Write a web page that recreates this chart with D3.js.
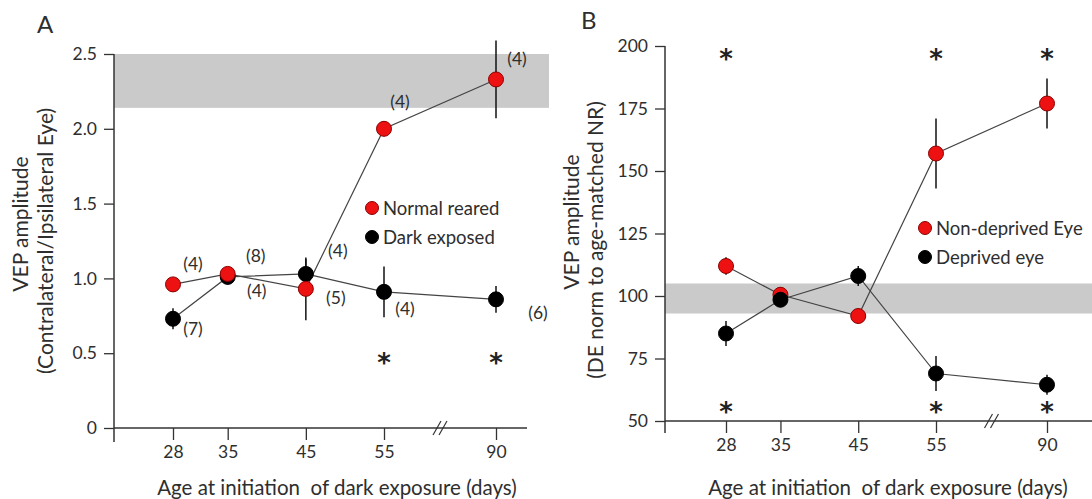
<!DOCTYPE html>
<html>
<head>
<meta charset="utf-8">
<script src="https://cdn.jsdelivr.net/npm/d3@7"></script>
<style>
  body { margin: 0; background: #fff; }
  svg text { font-family: Lato, "Open Sans", sans-serif; fill: #2e2e2e; }
</style>
</head>
<body>
<div id="chart"></div>
<script>
const days = [28, 35, 45, 55, 90];
const dayTickLabels = ["28", "35", "45", "55", "90"];

// Panel A: contralateral / ipsilateral ratio
const normalReared = [0.96, 1.03, 0.93, 2.00, 2.33];
const normalRearedErr = [0.03, 0.04, 0.21, 0.05, 0.26];
const normalRearedN = [4, 8, 5, 4, 4];
const darkExposed = [0.73, 1.01, 1.03, 0.91, 0.86];
const darkExposedErr = [0.07, 0.05, 0.10, 0.17, 0.09];
const darkExposedN = [7, 4, 4, 4, 6];
const bandA = [2.14, 2.5];
const starsA = [55, 90];

// Panel B: deprived eye normalised to age-matched normal reared
const nonDeprived = [112, 100.5, 92, 157, 177];
const nonDeprivedErr = [3.5, 3, 3, 14, 10];
const deprived = [85, 98.5, 108, 69, 64.5];
const deprivedErr = [5, 3, 4, 7, 4];
const bandB = [93, 105];
const starsBTop = [28, 55, 90];
const starsBBottom = [28, 55, 90];

const width = 1092, height = 499;

const svg = d3.select("#chart").append("svg")
    .attr("width", width)
    .attr("height", height);

function drawPanel(p) {
    const g = svg.append("g");

    // days axis has a break between 55 and 90
    const x = d3.scaleLinear()
        .domain([28, 55, 90])
        .range(p.xRange);
    const y = d3.scaleLinear()
        .domain(p.yDomain)
        .range(p.yRange);

    // reference band
    g.append("rect")
        .attr("x", p.axisX)
        .attr("width", p.bandEnd - p.axisX)
        .attr("y", y(p.band[1]))
        .attr("height", y(p.band[0]) - y(p.band[1]))
        .attr("fill", "#cacaca");

    // y axis
    const yAxis = d3.axisLeft(y)
        .tickValues(p.yTicks)
        .tickFormat(p.yFormat)
        .tickSize(10)
        .tickPadding(7)
        .tickSizeOuter(0);
    const ya = g.append("g")
        .attr("transform", "translate(" + p.axisX + ",0)")
        .call(yAxis);
    ya.select(".domain").remove();
    ya.selectAll(".tick line").attr("stroke", "#333").attr("stroke-width", 1.3);
    ya.selectAll(".tick text").style("font-size", "17.5px");
    g.append("line")
        .attr("x1", p.axisX).attr("x2", p.axisX)
        .attr("y1", y(p.yDomain[1])).attr("y2", y(p.yDomain[0]) + p.yOvershoot)
        .attr("stroke", "#333").attr("stroke-width", 1.5);

    // x axis
    const xAxis = d3.axisBottom(x)
        .tickValues(days)
        .tickFormat((d, i) => dayTickLabels[i])
        .tickSize(12)
        .tickPadding(6)
        .tickSizeOuter(0);
    const xa = g.append("g")
        .attr("transform", "translate(0," + y(p.yDomain[0]) + ")")
        .call(xAxis);
    xa.select(".domain").remove();
    xa.selectAll(".tick line").attr("stroke", "#333").attr("stroke-width", 1.3);
    xa.selectAll(".tick text").style("font-size", "17.5px");
    g.append("line")
        .attr("x1", p.axisX).attr("x2", p.xEnd)
        .attr("y1", y(p.yDomain[0])).attr("y2", y(p.yDomain[0]))
        .attr("stroke", "#333").attr("stroke-width", 1.5);

    // axis break marks
    const bx = (x(55) + x(90)) / 2, by = y(p.yDomain[0]);
    [-3, 3].forEach(o => {
        g.append("line")
            .attr("x1", bx + o - 4).attr("y1", by + 7)
            .attr("x2", bx + o + 4).attr("y2", by - 7)
            .attr("stroke", "#333").attr("stroke-width", 1.2);
    });

    // series: lines, error bars, markers
    const line = d3.line().x((d, i) => x(days[i])).y(d => y(d));
    p.series.forEach(s => {
        g.append("path")
            .datum(s.values)
            .attr("d", line)
            .attr("fill", "none")
            .attr("stroke", "#444")
            .attr("stroke-width", 1.2);
    });
    p.series.forEach(s => {
        g.selectAll(null)
            .data(s.values)
            .enter()
            .append("line")
            .attr("x1", (d, i) => x(days[i]))
            .attr("x2", (d, i) => x(days[i]))
            .attr("y1", (d, i) => y(d + s.err[i]))
            .attr("y2", (d, i) => y(d - s.err[i]))
            .attr("stroke", "#111")
            .attr("stroke-width", 1.5);
    });
    const markerOrder = p.redOnTop ? p.series.slice().reverse() : p.series;
    markerOrder.forEach(s => {
        g.selectAll(null)
            .data(s.values)
            .enter()
            .append("circle")
            .attr("cx", (d, i) => x(days[i]))
            .attr("cy", d => y(d))
            .attr("r", 7.5)
            .attr("fill", s.fill)
            .attr("stroke", s.stroke)
            .attr("stroke-width", 1);
    });

    // group sizes
    p.series.forEach(s => {
        if (!s.n) return;
        g.selectAll(null)
            .data(s.n)
            .enter()
            .append("text")
            .attr("x", (d, i) => x(days[i]) + s.nOffsets[i][0])
            .attr("y", (d, i) => y(s.values[i]) + s.nOffsets[i][1])
            .attr("text-anchor", "middle")
            .attr("dominant-baseline", "central")
            .style("font-size", "17.5px")
            .text(d => "(" + d + ")");
    });

    // significance stars
    p.stars.forEach(st => {
        g.selectAll(null)
            .data(st.days)
            .enter()
            .append("text")
            .attr("x", d => x(d))
            .attr("y", y(st.at) + 14)
            .attr("text-anchor", "middle")
            .style("font-size", "26px")
            .style("font-weight", "bold")
            .style("font-family", "DejaVu Sans")
            .style("fill", "#222")
            .text("*");
    });

    // legend
    p.series.forEach((s, i) => {
        const ly = p.legend[1] + i * 29;
        g.append("circle")
            .attr("cx", p.legend[0]).attr("cy", ly)
            .attr("r", 6.5)
            .attr("fill", s.fill).attr("stroke", s.stroke);
        g.append("text")
            .attr("x", p.legend[0] + 11).attr("y", ly)
            .attr("dominant-baseline", "central")
            .style("font-size", "18.5px")
            .text(s.name);
    });

    // panel letter
    g.append("text")
        .attr("x", p.letter[0]).attr("y", p.letter[1])
        .style("font-size", "24px")
        .text(p.letterText);

    // axis titles
    g.append("text")
        .attr("x", p.xTitle[0]).attr("y", p.xTitle[1])
        .attr("text-anchor", "middle")
        .style("font-size", "20.5px")
        .style("white-space", "pre")
        .text("Age at initiation  of dark exposure (days)");
    p.yTitle.forEach((t, i) => {
        g.append("text")
            .attr("transform", "translate(" + p.yTitleX[i] + "," + p.yTitleY[i] + ") rotate(-90)")
            .attr("text-anchor", "middle")
            .attr("dominant-baseline", "central")
            .style("font-size", "21px")
            .text(t);
    });
}

drawPanel({
    letterText: "A", letter: [37, 33],
    xRange: [173, 384, 496], xEnd: 527, bandEnd: 549, axisX: 114,
    yDomain: [0, 2.5], yRange: [428, 54], yOvershoot: 14,
    yTicks: [0, 0.5, 1.0, 1.5, 2.0, 2.5],
    yFormat: d => d === 0 ? "0" : d3.format(".1f")(d),
    band: bandA,
    redOnTop: true,
    series: [
        { name: "Normal reared", values: normalReared, err: normalRearedErr, n: normalRearedN,
          nOffsets: [[20, -21], [28, -18], [30, 9], [16, -27], [21, -21]],
          fill: "#ee1111", stroke: "#8a0000" },
        { name: "Dark exposed", values: darkExposed, err: darkExposedErr, n: darkExposedN,
          nOffsets: [[20, 10], [29, 14], [32, -23], [21, 17], [42, 13]],
          fill: "#000", stroke: "#000" }
    ],
    stars: [{ days: starsA, at: 0.47 }],
    legend: [372, 208],
    xTitle: [337, 495],
    yTitle: ["VEP amplitude", "(Contralateral/Ipsilateral Eye)"],
    yTitleX: [19, 44], yTitleY: [224, 241]
});

drawPanel({
    letterText: "B", letter: [581, 29],
    xRange: [726, 936, 1047], xEnd: 1092, bandEnd: 1092, axisX: 665,
    yDomain: [50, 200], yRange: [421, 46], yOvershoot: 12,
    yTicks: [50, 75, 100, 125, 150, 175, 200],
    yFormat: d3.format("d"),
    band: bandB,
    redOnTop: false,
    series: [
        { name: "Non-deprived Eye", values: nonDeprived, err: nonDeprivedErr,
          fill: "#ee1111", stroke: "#8a0000" },
        { name: "Deprived eye", values: deprived, err: deprivedErr,
          fill: "#000", stroke: "#000" }
    ],
    stars: [{ days: starsBTop, at: 197 }, { days: starsBBottom, at: 55.6 }],
    legend: [925, 228],
    xTitle: [888, 495],
    yTitle: ["VEP amplitude", "(DE norm to age-matched NR)"],
    yTitleX: [570, 594], yTitleY: [222, 240]
});
</script>
</body>
</html>
